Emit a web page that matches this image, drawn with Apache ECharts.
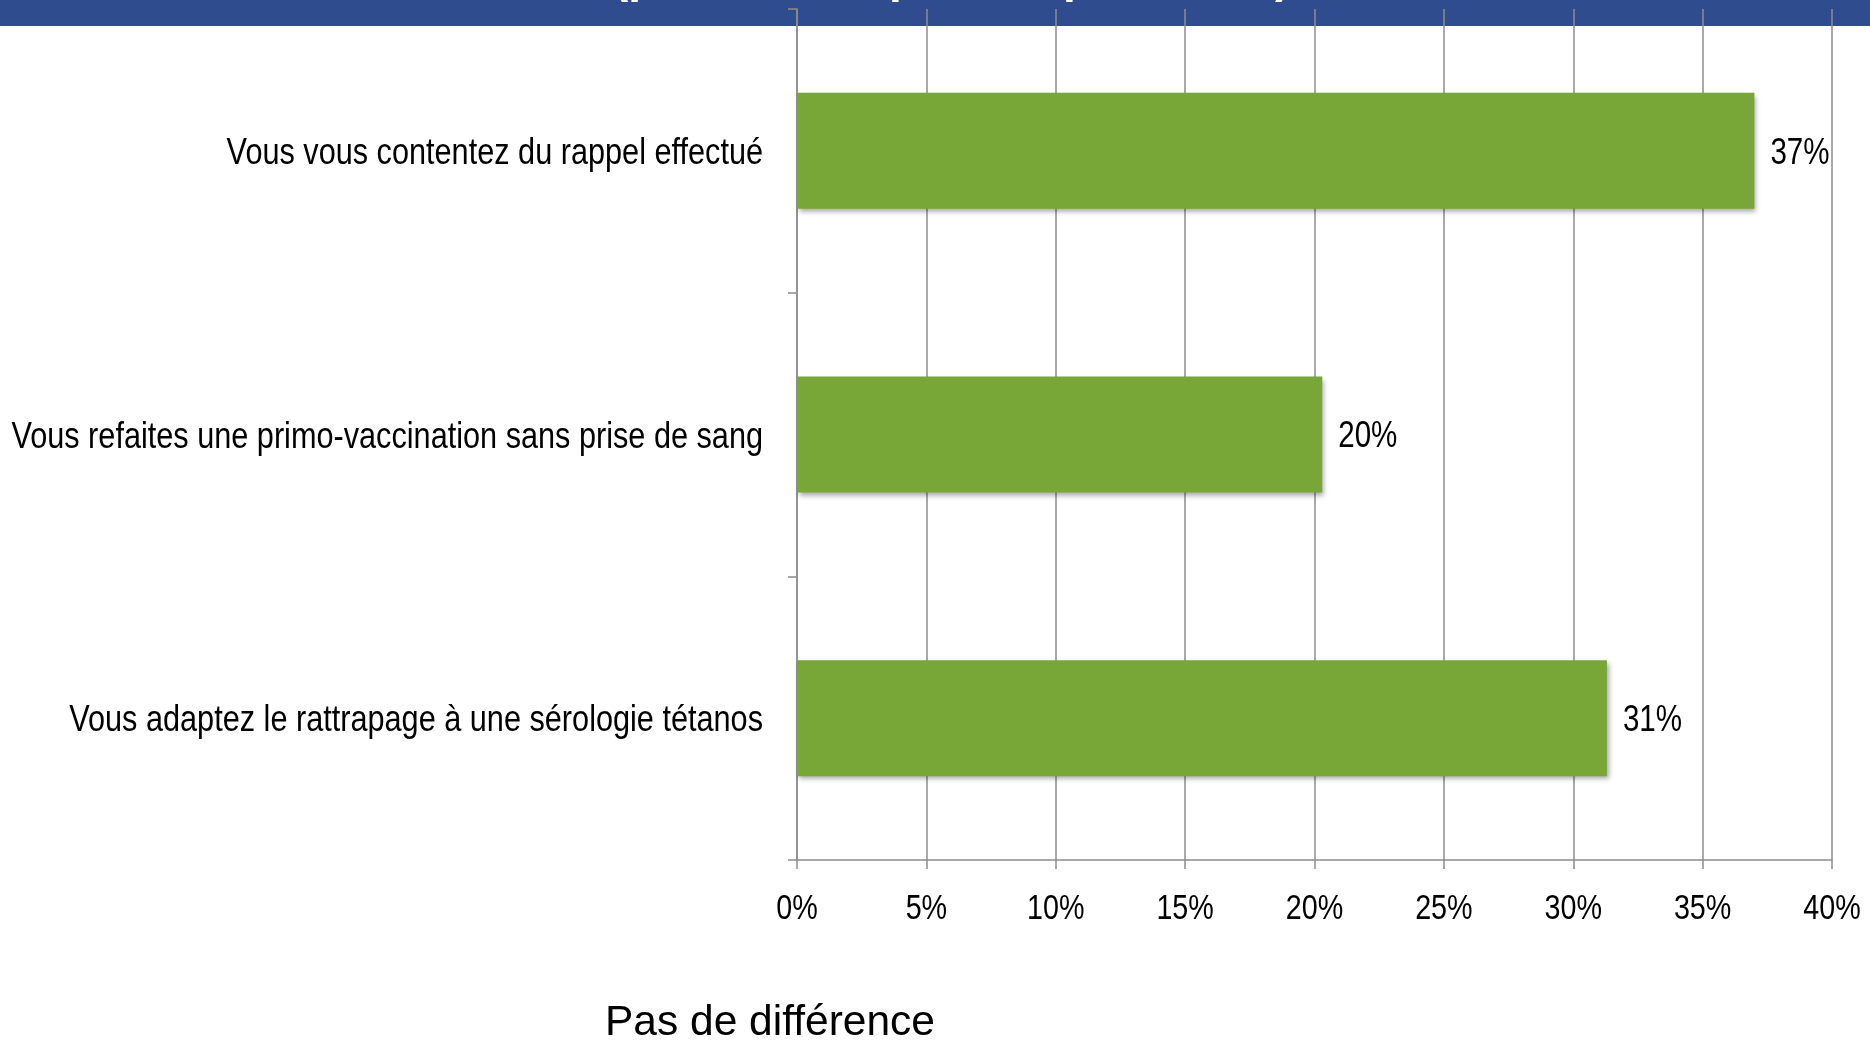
<!DOCTYPE html>
<html>
<head>
<meta charset="utf-8">
<script src="https://cdn.jsdelivr.net/npm/echarts@6/dist/echarts.min.js"></script>
<style>
  html, body { margin: 0; padding: 0; background: #fff; }
  #chart { width: 1870px; height: 1044px; }
</style>
</head>
<body>
<div id="chart"></div>
<script>
// Answers to the question, top to bottom
const categories = [
  'Vous vous contentez du rappel effectué',
  'Vous refaites une primo-vaccination sans prise de sang',
  'Vous adaptez le rattrapage à une sérologie tétanos'
];
// Share of respondents (%)
const values = [37.0, 20.3, 31.3];
// Horizontal scale and its tick labels
const axisMin = 0;
const axisMax = 40;
const axisStep = 5;
const tickLabels = ['0%', '5%', '10%', '15%', '20%', '25%', '30%', '35%', '40%'];

const regular = "'Liberation Sans', Arial, sans-serif";
const narrowScale = 0.82;          // condensed look for axis and value labels
const gridGray = '#8c8c8c';

const chart = echarts.init(document.getElementById('chart'));

const staticGraphics = [
  { type: 'rect', z: -10, shape: { x: 0, y: 0, width: 1870, height: 26 }, style: { fill: '#2f4d8e' } },
  { type: 'text', z: -9, x: 613, y: -21,
    style: { text: '(plusieurs réponses possibles)', fill: '#ffffff', font: 'bold 46px ' + regular,
             align: 'left', verticalAlign: 'middle' } },
  { type: 'text', x: 605, y: 1023,
    style: { text: 'Pas de différence', fill: '#000000', font: '42.5px ' + regular,
             align: 'left', verticalAlign: 'middle' } }
];

chart.setOption({
  animation: false,
  backgroundColor: '#ffffff',
  graphic: staticGraphics,
  grid: { left: 797, right: 38, top: 9, bottom: 184, containLabel: false, outerBoundsMode: 'none' },
  xAxis: {
    type: 'value',
    min: axisMin,
    max: axisMax,
    interval: axisStep,
    axisLine: { show: true, lineStyle: { color: gridGray, width: 1.5 } },
    axisTick: { show: true, length: 9, lineStyle: { color: gridGray, width: 1.5 } },
    splitLine: { show: true, lineStyle: { color: gridGray, width: 1.5 } },
    axisLabel: { show: false }
  },
  yAxis: {
    type: 'category',
    inverse: true,
    data: categories,
    axisLine: { show: true, lineStyle: { color: gridGray, width: 1.5 } },
    axisTick: { show: true, length: 9, lineStyle: { color: gridGray, width: 1.5 } },
    axisLabel: { show: false }
  },
  series: [{
    type: 'bar',
    data: values,
    barWidth: 116,
    itemStyle: {
      color: '#78a737',
      shadowColor: 'rgba(0,0,0,0.35)',
      shadowBlur: 5,
      shadowOffsetX: 2,
      shadowOffsetY: 3
    },
    label: { show: false }
  }]
});

// Condensed text placed from the chart's own scales
function narrowText(x, y, text, size, align) {
  return {
    type: 'text', x: x, y: y, scaleX: narrowScale,
    style: { text: text, fill: '#000000', font: size + 'px ' + regular,
             align: align, verticalAlign: 'middle' }
  };
}

const overlay = staticGraphics.slice();
const axisX0 = chart.convertToPixel({ xAxisIndex: 0 }, axisMin);

categories.forEach(function (c, i) {
  const y = chart.convertToPixel({ yAxisIndex: 0 }, i);
  overlay.push(narrowText(axisX0 - 34, y + 3, c, 37.4, 'right'));
});

tickLabels.forEach(function (t, i) {
  const x = chart.convertToPixel({ xAxisIndex: 0 }, axisMin + i * axisStep);
  overlay.push(narrowText(x, 909, t, 35, 'center'));
});

values.forEach(function (v, i) {
  const p = chart.convertToPixel({ seriesIndex: 0 }, [v, i]);
  overlay.push(narrowText(p[0] + 16, p[1] + 3, Math.round(v) + '%', 36, 'left'));
});

chart.setOption({ graphic: overlay }, { replaceMerge: ['graphic'] });
</script>
</body>
</html>
